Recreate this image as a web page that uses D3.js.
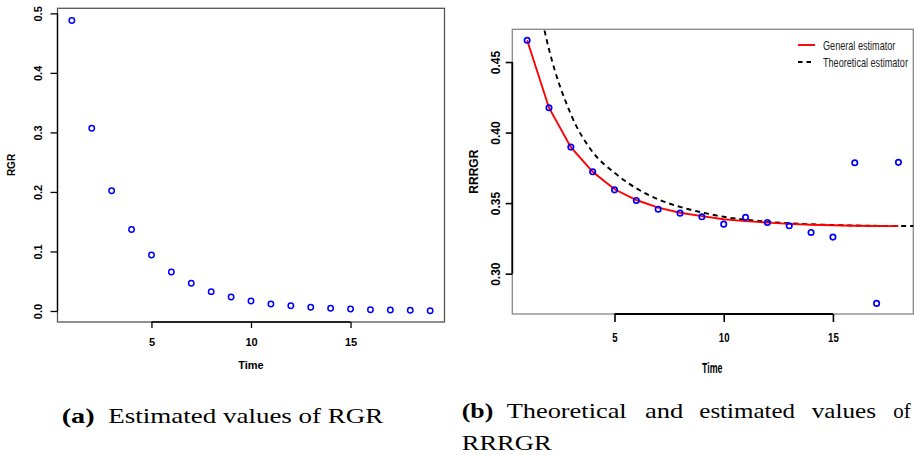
<!DOCTYPE html>
<html>
<head>
<meta charset="utf-8">
<script src="https://cdn.jsdelivr.net/npm/d3@7"></script>
<style>
  body { margin: 0; background: #fff; }
  svg { display: block; }
  .tick text { font-family: "Liberation Sans", Arial, sans-serif; font-weight: bold; fill: #000; }
  .lab { font-family: "Liberation Sans", Arial, sans-serif; font-weight: bold; }
  .cap { font-family: "Liberation Serif", "Times New Roman", serif; font-size: 22px; }
</style>
</head>
<body>
<svg id="chart" width="914" height="455"></svg>
<script>
// (a) RGR values
const rgrTime = [1, 2, 3, 4, 5, 6, 7, 8, 9, 10, 11, 12, 13, 14, 15, 16, 17, 18, 19];
const rgrValues = [0.488, 0.307, 0.202, 0.137, 0.094, 0.0655, 0.0465, 0.0325, 0.0235, 0.0168,
  0.0118, 0.0089, 0.0062, 0.0045, 0.0034, 0.0022, 0.0017, 0.0012, 0.0005];
const rgrTicks = [0, 0.1, 0.2, 0.3, 0.4, 0.5];

// (b) RRRGR values
const rrrgrTime = [1, 2, 3, 4, 5, 6, 7, 8, 9, 10, 11, 12, 13, 14, 15, 16, 17, 18];
const rrrgrValues = [0.4654, 0.4176, 0.3897, 0.3722, 0.3594, 0.3519, 0.3457, 0.3429, 0.3403,
  0.3351, 0.3399, 0.3363, 0.3339, 0.3292, 0.3259, 0.3786, 0.2789, 0.3789];
const generalValues = [0.4654, 0.4176, 0.3897, 0.3722, 0.3598, 0.3522, 0.3468, 0.3432, 0.3408,
  0.3386, 0.3372, 0.3362, 0.3353, 0.3347, 0.3343, 0.3340, 0.3338, 0.3337];
const theoryTime = [1, 2, 3, 4, 5, 6, 7, 8, 9, 10, 11, 12, 13, 14, 15, 16, 17, 18, 19];
const theoryValues = [0.535, 0.459, 0.413, 0.3862, 0.3715, 0.3605, 0.3527, 0.3473, 0.3434,
  0.3403, 0.3382, 0.3368, 0.3357, 0.3350, 0.3345, 0.3341, 0.3339, 0.3338, 0.3337];
const rrrgrTicks = [0.30, 0.35, 0.40, 0.45];

const timeTicks = [5, 10, 15];
const legendLabels = ["General estimator", "Theoretical estimator"];

const svg = d3.select("#chart");

// ---------- left panel ----------
const xA = d3.scaleLinear().domain([0.28, 19.72]).range([57.5, 444.5]);
const yA = d3.scaleLinear().domain([-0.0185, 0.5085]).range([322, 8.3]);

svg.append("rect")
  .attr("x", 57.5).attr("y", 8.3)
  .attr("width", 387).attr("height", 313.7)
  .attr("fill", "none").attr("stroke", "#555").attr("stroke-width", 1.3);

const yAxisA = svg.append("g")
  .attr("transform", "translate(57.5,0)")
  .call(d3.axisLeft(yA).tickValues(rgrTicks).tickSize(7).tickFormat(d3.format(".1f")));
yAxisA.select(".domain").remove();
yAxisA.selectAll(".tick line").attr("stroke", "#000").attr("stroke-width", 1.3);
yAxisA.selectAll(".tick text")
  .attr("transform", "rotate(-90)")
  .attr("x", 0).attr("y", -15.5).attr("dy", 0)
  .style("text-anchor", "middle").style("font-size", "11px");
svg.append("line")
  .attr("x1", 57.5).attr("x2", 57.5)
  .attr("y1", yA(0)).attr("y2", yA(0.5))
  .attr("stroke", "#000").attr("stroke-width", 1.3);

const xAxisA = svg.append("g")
  .attr("transform", "translate(0,322)")
  .call(d3.axisBottom(xA).tickValues(timeTicks).tickSize(6));
xAxisA.select(".domain").remove();
xAxisA.selectAll(".tick line").attr("stroke", "#000").attr("stroke-width", 1.3);
xAxisA.selectAll(".tick text").attr("y", 23.6).attr("dy", 0).style("font-size", "11px");
svg.append("line")
  .attr("x1", xA(5)).attr("x2", xA(15))
  .attr("y1", 322).attr("y2", 322)
  .attr("stroke", "#000").attr("stroke-width", 1.3);

svg.append("g").selectAll("circle")
  .data(rgrTime)
  .enter().append("circle")
  .attr("cx", (d) => xA(d))
  .attr("cy", (d, i) => yA(rgrValues[i]))
  .attr("r", 2.7)
  .attr("fill", "none").attr("stroke", "#0000ff").attr("stroke-width", 1.5);

svg.append("text").attr("class", "lab")
  .attr("transform", "translate(14.7,165) rotate(-90)")
  .attr("text-anchor", "middle").style("font-size", "10px")
  .text("RGR");
svg.append("text").attr("class", "lab")
  .attr("x", 251).attr("y", 369)
  .attr("text-anchor", "middle").style("font-size", "11px")
  .text("Time");

// ---------- right panel ----------
const xB = d3.scaleLinear().domain([0.32, 18.68]).range([512.3, 913.3]);
const yB = d3.scaleLinear().domain([0.2714, 0.4732]).range([314, 29.3]);

svg.append("defs").append("clipPath").attr("id", "clipB")
  .append("rect").attr("x", 512.3).attr("y", 29.3).attr("width", 401).attr("height", 284.7);

svg.append("rect")
  .attr("x", 512.3).attr("y", 29.3)
  .attr("width", 401).attr("height", 284.7)
  .attr("fill", "none").attr("stroke", "#888").attr("stroke-width", 1.3);

const yAxisB = svg.append("g")
  .attr("transform", "translate(512.3,0)")
  .call(d3.axisLeft(yB).tickValues(rrrgrTicks).tickSize(6.6).tickFormat(d3.format(".2f")));
yAxisB.select(".domain").remove();
yAxisB.selectAll(".tick line").attr("stroke", "#000").attr("stroke-width", 1.6);
yAxisB.selectAll(".tick text")
  .attr("transform", "rotate(-90)")
  .attr("x", 0).attr("y", -12).attr("dy", 0)
  .style("text-anchor", "middle").style("font-size", "12px");
svg.append("line")
  .attr("x1", 512.3).attr("x2", 512.3)
  .attr("y1", yB(0.30)).attr("y2", yB(0.45))
  .attr("stroke", "#000").attr("stroke-width", 1.8);

const xAxisB = svg.append("g")
  .attr("transform", "translate(0,314)")
  .call(d3.axisBottom(xB).tickValues(timeTicks).tickSize(8));
xAxisB.select(".domain").remove();
xAxisB.selectAll(".tick line").attr("stroke", "#000").attr("stroke-width", 1.6);
xAxisB.selectAll(".tick text")
  .attr("y", 28).attr("dy", 0)
  .attr("transform", "scale(0.74,1)")
  .style("font-size", "13px");
svg.append("line")
  .attr("x1", xB(5)).attr("x2", xB(15))
  .attr("y1", 314).attr("y2", 314)
  .attr("stroke", "#000").attr("stroke-width", 1.8);

const lineB = d3.line().x((d) => xB(d[0])).y((d) => yB(d[1]));

svg.append("path")
  .attr("clip-path", "url(#clipB)")
  .attr("d", lineB.curve(d3.curveMonotoneX)(theoryTime.map((t, i) => [t, theoryValues[i]])))
  .attr("fill", "none").attr("stroke", "#000").attr("stroke-width", 1.9)
  .attr("stroke-dasharray", "5,4");

svg.append("path")
  .attr("clip-path", "url(#clipB)")
  .attr("d", lineB.curve(d3.curveLinear)(rrrgrTime.map((t, i) => [t, generalValues[i]])))
  .attr("fill", "none").attr("stroke", "#ff0000").attr("stroke-width", 1.9);

svg.append("g").selectAll("circle")
  .data(rrrgrTime)
  .enter().append("circle")
  .attr("cx", (d) => xB(d))
  .attr("cy", (d, i) => yB(rrrgrValues[i]))
  .attr("r", 2.7)
  .attr("fill", "none").attr("stroke", "#0000ff").attr("stroke-width", 1.7);

svg.append("text").attr("class", "lab")
  .attr("transform", "translate(477.6,171.7) rotate(-90)")
  .attr("text-anchor", "middle").style("font-size", "12px")
  .text("RRRGR");
svg.append("text").attr("class", "lab")
  .attr("transform", "translate(712.3,373.3) scale(0.63,1)")
  .attr("text-anchor", "middle").style("font-size", "14px")
  .text("Time");

// legend
const legend = svg.append("g");
const legendRows = legend.selectAll("g")
  .data(legendLabels)
  .enter().append("g")
  .attr("transform", (d, i) => "translate(798," + (45 + i * 17) + ")");
legendRows.append("line")
  .attr("x1", 0).attr("x2", 17).attr("y1", 0).attr("y2", 0)
  .attr("stroke", (d, i) => i === 0 ? "#ff0000" : "#000")
  .attr("stroke-width", 1.9)
  .attr("stroke-dasharray", (d, i) => i === 0 ? null : "4.5,4");
legendRows.append("text")
  .attr("transform", "translate(25,4.5) scale(0.7,1)")
  .style("font-family", "'Liberation Sans', Arial, sans-serif")
  .style("font-size", "13px")
  .attr("fill", "#222")
  .text((d) => d);

// ---------- captions ----------
function capWord(x, y, str, len, bold) {
  svg.append("text").attr("class", "cap")
    .attr("x", x).attr("y", y)
    .attr("textLength", len).attr("lengthAdjust", "spacingAndGlyphs")
    .style("font-weight", bold ? "bold" : "normal")
    .text(str);
}
capWord(61.7, 423, "(a)", 33, true);
capWord(108.3, 423, "Estimated values of RGR", 275, false);

capWord(461.7, 418, "(b)", 31.6, true);
capWord(506.7, 418, "Theoretical", 120, false);
capWord(645, 418, "and", 38.3, false);
capWord(699.3, 418, "estimated", 95.7, false);
capWord(811.7, 418, "values", 64.3, false);
capWord(893.3, 418, "of", 17.4, false);
capWord(461.7, 450, "RRRGR", 90, false);
</script>
</body>
</html>
